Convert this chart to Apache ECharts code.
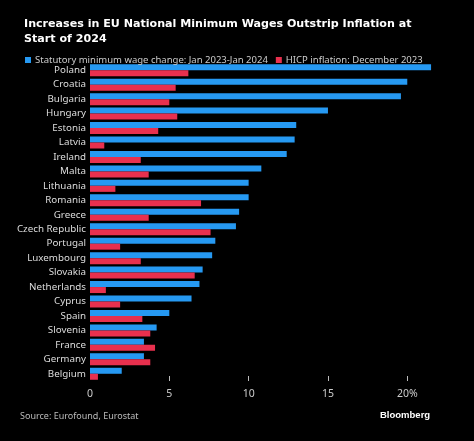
<!DOCTYPE html>
<html><head><meta charset="utf-8">
<script src="https://cdn.jsdelivr.net/npm/echarts@6/dist/echarts.min.js"></script>
<style>html,body{margin:0;padding:0;background:#000;}#c{width:474px;height:441px;}</style>
</head><body><div id="c"></div>
<script>
const countries = ["Poland","Croatia","Bulgaria","Hungary","Estonia","Latvia","Ireland","Malta","Lithuania","Romania","Greece","Czech Republic","Portugal","Luxembourg","Slovakia","Netherlands","Cyprus","Spain","Slovenia","France","Germany","Belgium"];
const wageChange = [21.5,20.0,19.6,15.0,13.0,12.9,12.4,10.8,10.0,10.0,9.4,9.2,7.9,7.7,7.1,6.9,6.4,5.0,4.2,3.4,3.4,2.0];
const hicp = [6.2,5.4,5.0,5.5,4.3,0.9,3.2,3.7,1.6,7.0,3.7,7.6,1.9,3.2,6.6,1.0,1.9,3.3,3.8,4.1,3.8,0.5];
const tickLabels = [0,5,10,15,20];
const seriesNames = ["Statutory minimum wage change: Jan 2023-Jan 2024","HICP inflation: December 2023"];

const font = "'Noto Sans', sans-serif";
const chart = echarts.init(document.getElementById('c'), null, {renderer:'canvas'});
chart.setOption({
  backgroundColor:'#000',
  animation:false,
  title:{
    text:'Increases in EU National Minimum Wages Outstrip Inflation at\nStart of 2024',
    left:19, top:12,
    textStyle:{color:'#fff', fontSize:11.1, fontWeight:'bold', fontFamily:"'DejaVu Sans', sans-serif", lineHeight:15}
  },
  legend:{
    left:20, top:50, itemWidth:6, itemHeight:6, itemGap:8, width:460,
    icon:'rect',
    textStyle:{color:'#ccc', fontSize:9.5, fontFamily:font, padding:[0,0,0,-1]},
    data:seriesNames
  },
  grid:{left:90, right:35, top:63, bottom:60, containLabel:false},
  xAxis:{
    type:'value', min:0, max:22,
    axisLine:{show:false},
    splitLine:{show:false},
    axisTick:{show:true, customValues:[5,10,15,20], inside:true, length:5, lineStyle:{color:'#bbb'}},
    axisLabel:{customValues:tickLabels, color:'#ccc', fontSize:10.5, fontFamily:font, margin:8,
      formatter:v => v===20 ? '20%' : String(v)}
  },
  yAxis:{
    type:'category', data:countries, inverse:true,
    axisLine:{show:false}, axisTick:{show:false},
    axisLabel:{color:'#ddd', fontSize:9.8, fontFamily:font, margin:4, interval:0}
  },
  series:[
    {name:seriesNames[0], type:'bar', data:wageChange, barWidth:6, barGap:'0%', itemStyle:{color:'#2699f2'}},
    {name:seriesNames[1], type:'bar', data:hicp, barWidth:6, barGap:'0%', itemStyle:{color:'#e8304e'}}
  ],
  graphic:[
    {type:'text', left:20, top:412, style:{text:'Source: Eurofound, Eurostat', fill:'#bbb', fontSize:9, fontFamily:font}},
    {type:'text', left:380, top:410, style:{text:'Bloomberg', fill:'#fff', fontSize:9.5, fontWeight:'bold', fontFamily:"'Liberation Sans', sans-serif"}}
  ]
});
</script></body></html>
